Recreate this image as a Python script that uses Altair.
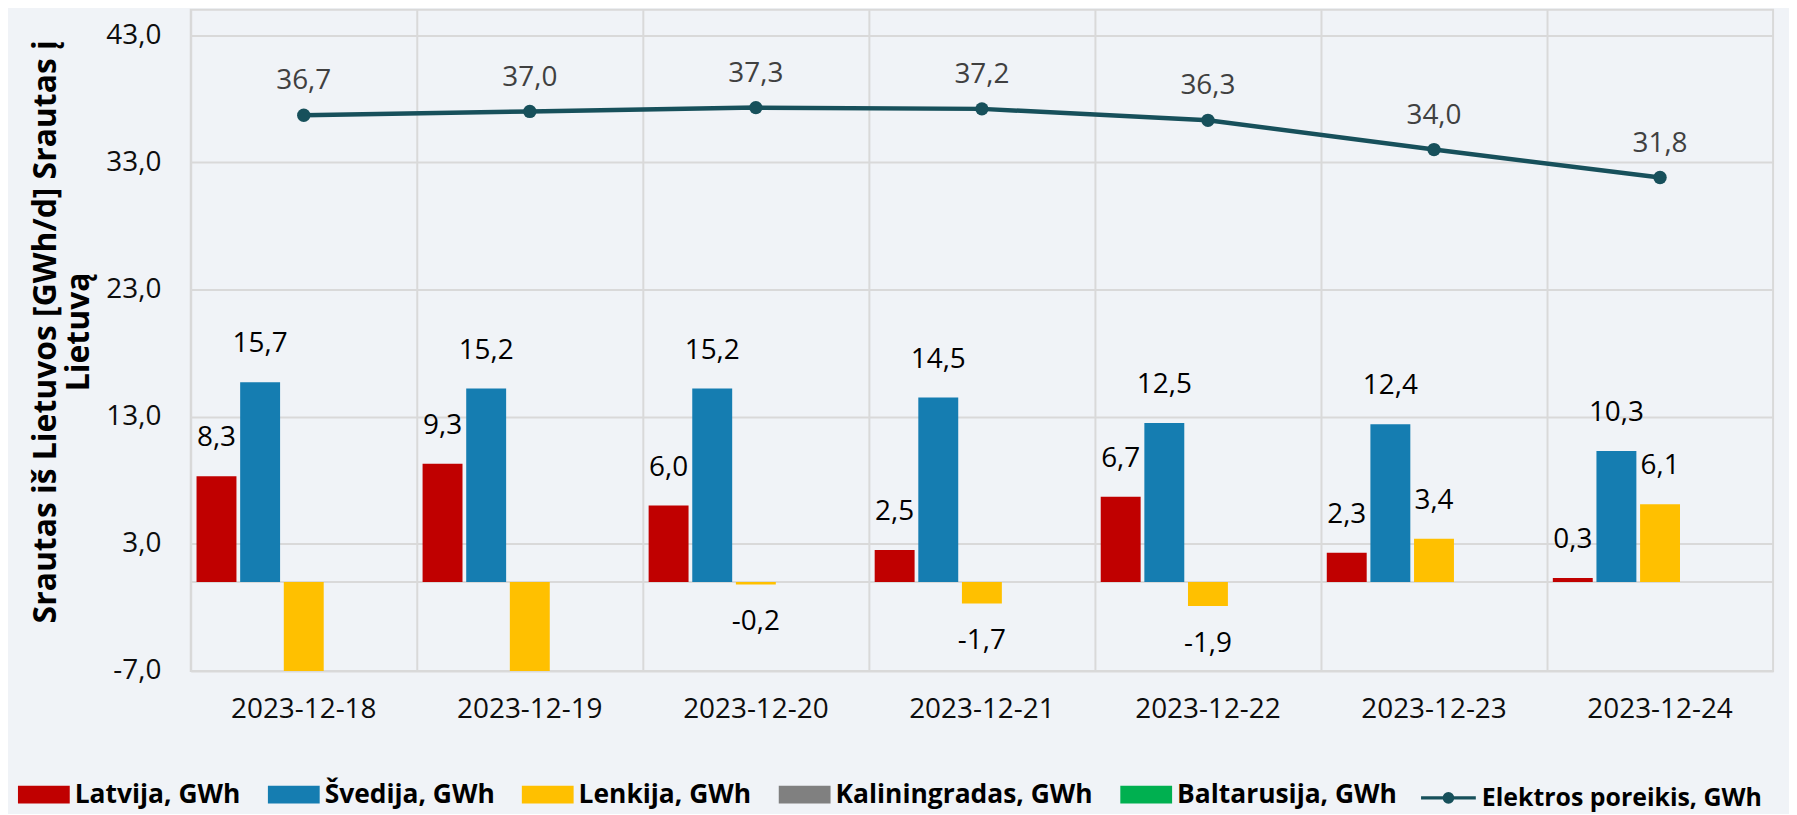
import altair as alt
import pandas as pd

dates = ["2023-12-18", "2023-12-19", "2023-12-20", "2023-12-21",
         "2023-12-22", "2023-12-23", "2023-12-24"]
series = ["Latvija, GWh", "Švedija, GWh", "Lenkija, GWh",
          "Kaliningradas, GWh", "Baltarusija, GWh"]
latvija = [8.3, 9.3, 6.0, 2.5, 6.7, 2.3, 0.3]
svedija = [15.7, 15.2, 15.2, 14.5, 12.5, 12.4, 10.3]
lenkija = [-9.6, -10.1, -0.2, -1.7, -1.9, 3.4, 6.1]
kaliningradas = [0.0, 0.0, 0.0, 0.0, 0.0, 0.0, 0.0]
baltarusija = [0.0, 0.0, 0.0, 0.0, 0.0, 0.0, 0.0]
demand = [36.7, 37.0, 37.3, 37.2, 36.3, 34.0, 31.8]
line_name = "Elektros poreikis, GWh"
y_ticks = [-7, 3, 13, 23, 33, 43]

bar_colors = ["#C00000", "#157DB1", "#FFC000", "#808080", "#00B050"]
line_color = "#17505B"
grid_color = "#D9D9D9"
bg = "#F0F3F7"
font = "Open Sans"

W, H = 1589, 664
LEFT = 183.5

rows = []
for name, vals in zip(series, [latvija, svedija, lenkija, kaliningradas, baltarusija]):
    for d, v in zip(dates, vals):
        rows.append({"date": d, "series": name, "value": v})
bars_df = pd.DataFrame(rows)
line_df = pd.DataFrame({"date": dates, "value": demand, "name": [line_name] * len(dates)})

fmt = "replace(replace(format(datum.value, '.1f'), '.', ','), '\u2212', '-')"

x_enc = alt.X(
    "date:N", sort=dates,
    scale=alt.Scale(domain=dates, paddingInner=0, paddingOuter=0),
    axis=alt.Axis(title=None, bandPosition=0, grid=True,
                  gridColor=grid_color, gridWidth=2, ticks=False, domain=False,
                  labelAngle=0, labelFont=font, labelFontSize=28,
                  labelColor="#0D0D0D", labelPadding=25),
)
y_enc = alt.Y(
    "value:Q", scale=alt.Scale(domain=[-7, 45], nice=False, zero=False),
    axis=alt.Axis(values=y_ticks, labelExpr=fmt, grid=True, gridColor=grid_color,
                  gridWidth=2, domain=False, ticks=False,
                  title=["Srautas iš Lietuvos [GWh/d] Srautas į", "Lietuvą"],
                  titleFont=font, titleFontSize=32, titleFontWeight="bold",
                  titleColor="#000000", titlePadding=10, titleLineHeight=34,
                  titleY=323,
                  labelFont=font, labelFontSize=28, labelColor="#0D0D0D",
                  labelPadding=30),
)
xoff = alt.XOffset("series:N", sort=series,
                   scale=alt.Scale(domain=series, paddingInner=0.085, paddingOuter=0.133))

bars = alt.Chart(bars_df).mark_bar(clip=True).encode(
    x=x_enc, y=y_enc, xOffset=xoff,
    fill=alt.Fill("series:N", sort=series,
                  scale=alt.Scale(domain=series, range=bar_colors),
                  legend=alt.Legend(orient="none", legendX=18 - LEFT - 8, legendY=762,
                                    direction="horizontal", title=None,
                                    symbolType="M-1,-0.346H1V0.346H-1Z", symbolSize=2704,
                                    symbolStrokeWidth=0, labelFont=font,
                                    labelFontSize=26.5, labelFontWeight="bold",
                                    labelColor="#000000", labelOffset=5,
                                    labelLimit=500, columnPadding=27)),
)

lab_base = alt.Chart(bars_df).transform_filter(
    "datum.value != 0 && datum.value > -7"
).transform_calculate(label=fmt)
pos_labels = lab_base.transform_filter("datum.value > 0").mark_text(
    font=font, fontSize=28, color="#000000", dy=-38, baseline="middle"
).encode(x=alt.X("date:N", sort=dates), y=alt.Y("value:Q"),
         xOffset=alt.XOffset("series:N", sort=series), text="label:N")
neg_labels = lab_base.transform_filter("datum.value < 0").mark_text(
    font=font, fontSize=28, color="#000000", dy=38, baseline="middle"
).encode(x=alt.X("date:N", sort=dates), y=alt.Y("value:Q"),
         xOffset=alt.XOffset("series:N", sort=series), text="label:N")

zero_rule = alt.Chart(line_df).mark_rule(color=grid_color, strokeWidth=2).encode(
    y=alt.datum(0)
)

line = alt.Chart(line_df).mark_line(strokeWidth=4.5).encode(
    x=alt.X("date:N", sort=dates), y=alt.Y("value:Q"),
    stroke=alt.Stroke("name:N", scale=alt.Scale(domain=[line_name], range=[line_color]),
                      legend=alt.Legend(orient="none", legendX=1425 - LEFT - 8, legendY=762,
                                        title=None,
                                        symbolType="M-1,0H1M0.15,0A0.15,0.15,0,1,1,-0.15,0A0.15,0.15,0,1,1,0.15,0Z",
                                        symbolSize=3025, symbolStrokeWidth=3.5,
                                        symbolFillColor=line_color,
                                        labelFont=font, labelFontSize=25,
                                        labelFontWeight="bold", labelColor="#000000",
                                        labelOffset=4, labelLimit=500)),
)
points = alt.Chart(line_df).mark_point(filled=True, size=180, color=line_color, opacity=1).encode(
    x=alt.X("date:N", sort=dates), y=alt.Y("value:Q"),
)
line_labels = alt.Chart(line_df).transform_calculate(label=fmt).mark_text(
    font=font, fontSize=28, color="#404040", dy=-34, baseline="middle"
).encode(x=alt.X("date:N", sort=dates), y=alt.Y("value:Q"), text="label:N")

chart = alt.layer(
    zero_rule, bars, pos_labels, neg_labels, line, points, line_labels
).properties(
    width=W, height=H, background=bg,
    autosize=alt.AutoSizeParams(type="none"),
    padding={"left": LEFT, "top": 0, "right": 16, "bottom": 142},
).configure_view(stroke=grid_color, strokeWidth=2)

chart.save("out.html", embed_options={"renderer": "svg", "actions": False})
